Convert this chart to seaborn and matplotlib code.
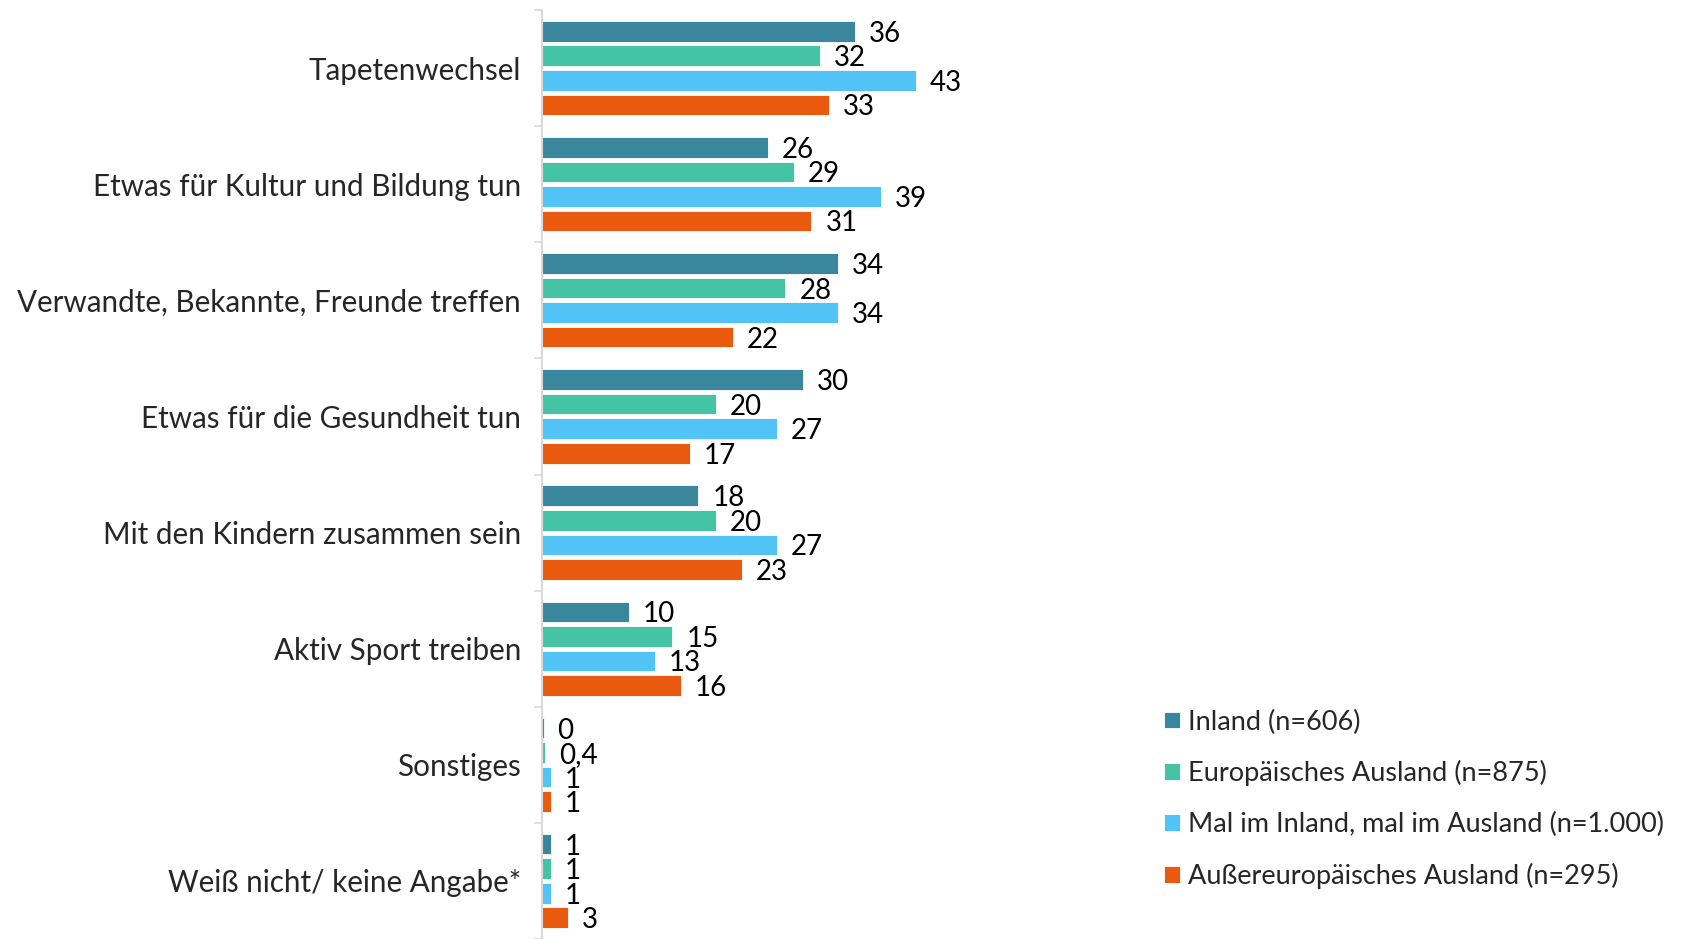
import matplotlib
matplotlib.use("Agg")
import matplotlib.pyplot as plt
import seaborn as sns
import pandas as pd
import numpy as np

# Data
categories = [
    "Tapetenwechsel",
    "Etwas für Kultur und Bildung tun",
    "Verwandte, Bekannte, Freunde treffen",
    "Etwas für die Gesundheit tun",
    "Mit den Kindern zusammen sein",
    "Aktiv Sport treiben",
    "Sonstiges",
    "Weiß nicht/ keine Angabe*",
]
groups = [
    "Inland (n=606)",
    "Europäisches Ausland (n=875)",
    "Mal im Inland, mal im Ausland (n=1.000)",
    "Außereuropäisches Ausland (n=295)",
]
inland = [36, 26, 34, 30, 18, 10, 0.2, 1]
europa = [32, 29, 28, 20, 20, 15, 0.4, 1]
mal_mal = [43, 39, 34, 27, 27, 13, 1, 1]
aussereuropa = [33, 31, 22, 17, 23, 16, 1, 3]
value_labels = [
    ["36", "26", "34", "30", "18", "10", "0", "1"],
    ["32", "29", "28", "20", "20", "15", "0,4", "1"],
    ["43", "39", "34", "27", "27", "13", "1", "1"],
    ["33", "31", "22", "17", "23", "16", "1", "3"],
]
colors = ["#3A869C", "#45C4A5", "#52C3F7", "#EA5A0E"]

series = [inland, europa, mal_mal, aussereuropa]
df = pd.DataFrame(
    [(c, g, v) for g, vals in zip(groups, series) for c, v in zip(categories, vals)],
    columns=["cat", "group", "val"],
)

sns.set_style("white")
plt.rcParams["font.family"] = ["Lato", "DejaVu Sans"]

fig = plt.figure(figsize=(17.01, 9.39), dpi=100)
ax = fig.add_axes([0.3186, 0.0, 0.3578, 1 - 10 / 939])

sns.barplot(
    data=df, y="cat", x="val", hue="group", order=categories, hue_order=groups,
    palette=colors, orient="h", width=0.845, gap=0.16, saturation=1,
    edgecolor="white", linewidth=0.6, ax=ax,
)

for cont, labs in zip(ax.containers, value_labels):
    texts = ax.bar_label(cont, labels=labs, padding=10, fontsize=20, color="black")
    for t in texts:
        t.set_va("center_baseline")

handles, labels = ax.get_legend_handles_labels()
ax.get_legend().remove()

ax.set_xlim(0, 70)
ax.set_ylim(7.5, -0.5)
ax.set_xlabel("")
ax.set_ylabel("")
ax.set_xticks([])

ax.tick_params(axis="y", which="major", left=False, length=0, pad=15, labelsize=21.3)
ax.set_yticks(np.arange(-0.5, 8.0, 1.0), minor=True)
ax.tick_params(axis="y", which="minor", left=True, length=6, width=1.2,
               color="#D9D9D9", direction="out")

for s in ["top", "right", "bottom"]:
    ax.spines[s].set_visible(False)
ax.spines["left"].set_color("#D9D9D9")
ax.spines["left"].set_linewidth(1.5)

fig.legend(
    handles, labels, loc="upper left", bbox_to_anchor=(0.6845, 0.2444),
    frameon=False, fontsize=19.5, handlelength=0.58, handleheight=0.58,
    handletextpad=0.3, labelspacing=0.95, borderpad=0, borderaxespad=0,
)

fig.savefig("out.png", dpi=100)
